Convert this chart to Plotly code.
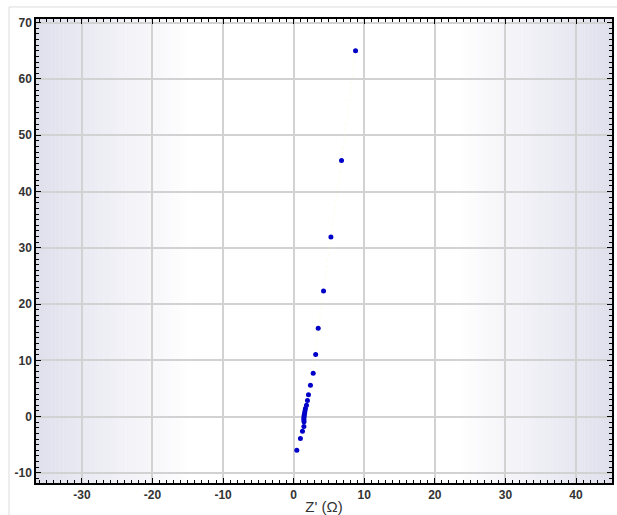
import plotly.graph_objects as go

# Impedance data: real part Z' and imaginary part (Ω)
z_real = [8.77, 6.78, 5.28, 4.23, 3.48, 3.12, 2.77, 2.38, 2.10, 1.96, 1.82, 1.67,
          1.60, 1.55, 1.50, 1.47, 1.45, 1.45, 1.47, 1.45, 1.25, 0.96, 0.45]
z_imag = [65.0, 45.5, 31.9, 22.3, 15.7, 11.05, 7.7, 5.58, 3.9, 2.84, 2.0, 1.42,
          1.0, 0.6, 0.3, 0.0, -0.3, -0.6, -0.9, -1.78, -2.6, -3.9, -6.0]

x_ticks = [-30, -20, -10, 0, 10, 20, 30, 40]
y_ticks = [-10, 0, 10, 20, 30, 40, 50, 60, 70]
x_labels = [str(v) for v in x_ticks]
y_labels = [str(v) for v in y_ticks]

X_RANGE = [-36.5, 45.1]
Y_RANGE = [-11.8, 70.66]

fig = go.Figure()

# faint guide line through the points
fig.add_trace(go.Scatter(x=z_real, y=z_imag, mode="lines",
                         line=dict(color="rgba(250,235,150,0.2)", width=1, dash="dot"),
                         hoverinfo="skip", showlegend=False))
fig.add_trace(go.Scatter(x=z_real, y=z_imag, mode="markers",
                         marker=dict(color="#0000c8", size=5),
                         showlegend=False))

# horizontal lavender-to-white gradient behind the grid
edge = (224, 224, 237)
shapes = []
n = 40
fade = 22.0  # width of each fade in data units
for side in ("left", "right"):
    for i in range(n):
        t0 = i / n
        t1 = (i + 1) / n
        w = 1 - (t0 + t1) / 2
        col = tuple(round(255 - (255 - c) * w) for c in edge)
        if side == "left":
            a = X_RANGE[0] + t0 * fade
            b = X_RANGE[0] + t1 * fade + 0.05
        else:
            a = X_RANGE[1] - t1 * fade - 0.05
            b = X_RANGE[1] - t0 * fade
        shapes.append(dict(type="rect", xref="x", yref="y domain",
                           x0=a, x1=b, y0=0, y1=1, layer="below",
                           line=dict(width=0),
                           fillcolor="rgb(%d,%d,%d)" % col))

# thin outer frame
shapes.append(dict(type="rect", xref="paper", yref="paper",
                   x0=-0.0469, x1=1.05, y0=-0.2, y1=1.0259,
                   line=dict(color="#dcdcdc", width=1), layer="above"))

tick_font = dict(family="Liberation Sans", size=12, color="#333333", weight="bold")
axis_common = dict(showline=True, linecolor="black", linewidth=1.5, mirror="allticks",
                   ticks="inside", ticklen=5, tickwidth=1.3, tickcolor="black",
                   showgrid=True, gridcolor="#d2d2d2", gridwidth=2,
                   zeroline=False, tickfont=tick_font, automargin=False)

fig.update_layout(
    width=617, height=515,
    margin=dict(l=36, r=5, t=19, b=32),
    paper_bgcolor="white", plot_bgcolor="white",
    shapes=shapes,
    xaxis=dict(range=X_RANGE, tickvals=x_ticks, ticktext=x_labels,
               minor=dict(dtick=1, tick0=0, ticks="inside", ticklen=3,
                          tickcolor="black", tickwidth=1, showgrid=False),
               title=dict(text="Z' (Ω)", standoff=1,
                          font=dict(family="Liberation Sans", size=15, color="#333333")),
               **axis_common),
    yaxis=dict(range=Y_RANGE, tickvals=y_ticks, ticktext=y_labels,
               minor=dict(dtick=1, tick0=0, ticks="inside", ticklen=3,
                          tickcolor="black", tickwidth=1, showgrid=False),
               **axis_common),
)

fig.write_html("out.html")
